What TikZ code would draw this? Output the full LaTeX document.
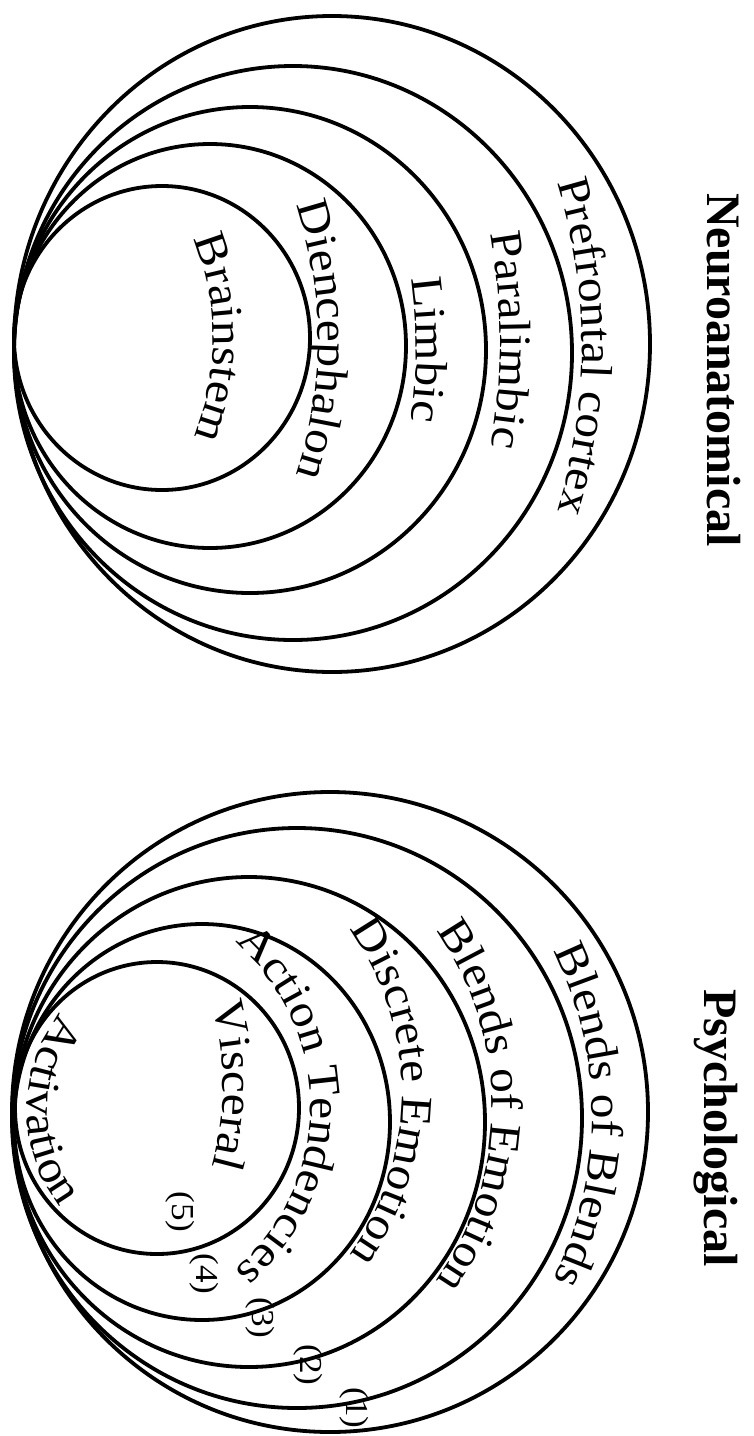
\documentclass[tikz,border=0pt]{standalone}
\usepackage{fontspec}
\setmainfont{Liberation Serif}
\newfontfamily\ringfont[FakeStretch=1.1]{Liberation Serif}
\usetikzlibrary{shapes.geometric, decorations.text}

\begin{document}
\begin{tikzpicture}[x=1pt, y=1pt,
  ring/.style={draw, ellipse, line width=3.8pt, inner sep=0pt, outer sep=0pt},
  ringtext/.style={decorate, decoration={text along path, text align=center,
    text={|\ringfont\fontsize{45}{54}\selectfont|#1}}},
  heading/.style={font=\fontsize{48}{58}\selectfont\bfseries, rotate=-90},
  tag/.style={font=\ringfont\fontsize{32}{36}\selectfont, rotate=-90, inner sep=1pt}]
  \useasboundingbox (0,0) rectangle (754,-1436);
  % --- Neuroanatomical rings (outer to inner) ---
  \foreach \n/\x/\y/\w/\h in {1/332/344/636/656, 2/293/353/558/574,
      3/250/350/472/486, 4/210/346/392/404, 5/162/338/296/304}
    \node[ring, minimum width=\w, minimum height=\h] (neuro\n) at (\x,-\y) {};
  % --- Psychological rings (outer to inner) ---
  \foreach \n/\x/\y/\w/\h in {1/330/1112/636/640, 2/297/1118/570/580,
      3/249/1122/472/490, 4/202/1122/376/396, 5/157/1108/284/292}
    \node[ring, minimum width=\w, minimum height=\h] (psych\n) at (\x,-\y) {};
  % --- Neuroanatomical labels ---
  \path[ringtext={Brainstem}] ([shift={(-47,-338)}]50:260) arc[start angle=50, end angle=-50, radius=260];
  \path[ringtext={Diencephalon}] ([shift={(-102,-340)}]40:420) arc[start angle=40, end angle=-40, radius=420];
  \path[ringtext={Limbic}] ([shift={(-104,-350)}]30:520) arc[start angle=30, end angle=-30, radius=520];
  \path[ringtext={Paralimbic}] ([shift={(-120,-340)}]30:620) arc[start angle=30, end angle=-30, radius=620];
  \path[ringtext={Prefrontal cortex}] ([shift={(22,-347)}]35:560) arc[start angle=35, end angle=-35, radius=560];
  % --- Psychological labels ---
  \path[ringtext={Activation}] ([shift={(187,-1110)}]110:160) arc[start angle=110, end angle=250, radius=160];
  \path[ringtext={Visceral}] ([shift={(-77,-1085)}]40:300) arc[start angle=40, end angle=-40, radius=300];
  \path[ringtext={Action Tendencies}] ([shift={(94,-1106)}]75:216) arc[start angle=75, end angle=-75, radius=216];
  \path[ringtext={Discrete Emotion}] ([shift={(125,-1092)}]60:277) arc[start angle=60, end angle=-60, radius=277];
  \path[ringtext={Blends of Emotion}] ([shift={(189,-1106)}]60:303) arc[start angle=60, end angle=-60, radius=303];
  \path[ringtext={Blends of Blends}] ([shift={(225,-1115)}]50:367) arc[start angle=50, end angle=-50, radius=367];
  % --- Level numbers ---
  \node[tag] (lvl5) at (180,-1212) {(5)};
  \node[tag] (lvl4) at (204,-1274) {(4)};
  \node[tag] (lvl3) at (260,-1318) {(3)};
  \node[tag] (lvl2) at (308,-1365) {(2)};
  \node[tag] (lvl1) at (354,-1408) {(1)};
  % --- Headings ---
  \node[heading] (neurotitle) at (724,-370) {Neuroanatomical};
  \node[heading] (psychtitle) at (716,-1128) {Psychological};
\end{tikzpicture}
\end{document}
